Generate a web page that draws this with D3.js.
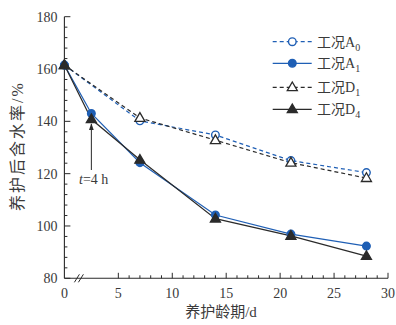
<!DOCTYPE html>
<html>
<head>
<meta charset="utf-8">
<script src="https://cdn.jsdelivr.net/npm/d3@7/dist/d3.min.js"></script>
<style>
  html, body { margin: 0; padding: 0; background: #fff; }
  svg text { font-family: "Liberation Serif", "Noto Sans CJK SC", serif; fill: #3a3a3a; }
</style>
</head>
<body>
<svg id="chart" width="396" height="325"></svg>
<script>
// Curing age (d); the 4 h reading sits just after the axis break
const agesShort = [0, 7, 14, 21, 28];
const agesLong = [0, 2.5, 7, 14, 21, 28];

// Moisture content after curing (%)
const seriesA0 = [161.5, 140.2, 134.8, 125.0, 120.4];
const seriesA1 = [161.5, 143.0, 124.2, 104.2, 96.9, 92.3];
const seriesD1 = [161.5, 141.3, 132.8, 124.2, 118.3];
const seriesD4 = [161.5, 140.8, 125.3, 102.8, 96.2, 88.5];

const xTicks = [0, 5, 10, 15, 20, 25, 30];
const yTicks = [80, 100, 120, 140, 160, 180];
const legendNames = ["A", "A", "D", "D"];
const legendSubs = ["0", "1", "1", "4"];

const blue = "#1f5fb5";
const dark = "#2a2a2a";

const svg = d3.select("#chart");
const x = d3.scaleLinear().domain([0, 30]).range([64.4, 388]);
const y = d3.scaleLinear().domain([80, 180]).range([278.3, 16.7]);

// Axes
const gx = svg.append("g").attr("transform", `translate(0,${y(80)})`);
gx.append("line").attr("x1", x(0)).attr("x2", x(30)).attr("stroke", dark).attr("stroke-width", 1.1);
const xMinor = d3.range(5, 30).filter(v => v % 5 !== 0);
gx.selectAll(".xmin").data(xMinor).join("line")
  .attr("x1", d => x(d)).attr("x2", d => x(d)).attr("y1", 0).attr("y2", -3)
  .attr("stroke", dark).attr("stroke-width", 1);
gx.selectAll(".xmaj").data(xTicks.filter(v => v > 0)).join("line")
  .attr("x1", d => x(d)).attr("x2", d => x(d)).attr("y1", 0).attr("y2", -5.5)
  .attr("stroke", dark).attr("stroke-width", 1);
gx.selectAll(".xlab").data(xTicks).join("text")
  .attr("x", d => x(d)).attr("y", 20).attr("text-anchor", "middle")
  .attr("font-size", 14).text(d => d);
// axis break marks
[0, 4].forEach(off => {
  gx.append("line")
    .attr("x1", x(0) + 10 + off).attr("y1", 4)
    .attr("x2", x(0) + 15 + off).attr("y2", -4)
    .attr("stroke", dark).attr("stroke-width", 1);
});

const gy = svg.append("g").attr("transform", `translate(${x(0)},0)`);
gy.append("line").attr("y1", y(80)).attr("y2", y(180)).attr("stroke", dark).attr("stroke-width", 1.1);
const yMinor = d3.range(80, 181, 4).filter(v => v % 20 !== 0);
gy.selectAll(".ymin").data(yMinor).join("line")
  .attr("x1", 0).attr("x2", 3).attr("y1", d => y(d)).attr("y2", d => y(d))
  .attr("stroke", dark).attr("stroke-width", 1);
gy.selectAll(".ymaj").data(yTicks).join("line")
  .attr("x1", 0).attr("x2", 6).attr("y1", d => y(d)).attr("y2", d => y(d))
  .attr("stroke", dark).attr("stroke-width", 1);
gy.selectAll(".ylab").data(yTicks).join("text")
  .attr("x", -7).attr("y", d => y(d) + 5).attr("text-anchor", "end")
  .attr("font-size", 14).text(d => d);

// Axis titles
svg.append("text").attr("x", 221).attr("y", 317).attr("text-anchor", "middle")
  .attr("font-size", 15).text("养护龄期/d");
svg.append("text").attr("transform", `translate(23,146) rotate(-90)`)
  .attr("text-anchor", "middle").attr("font-size", 16).attr("letter-spacing", 2)
  .text("养护后含水率/%");

// Series
const series = [
  { ages: agesShort, vals: seriesA0, color: blue, dash: "4,3", marker: "circle", fill: "#fff" },
  { ages: agesLong, vals: seriesA1, color: blue, dash: null, marker: "circle", fill: blue },
  { ages: agesShort, vals: seriesD1, color: dark, dash: "4,3", marker: "triangle", fill: "#fff" },
  { ages: agesLong, vals: seriesD4, color: dark, dash: null, marker: "triangle", fill: dark }
];

const line = d3.line().x(d => x(d[0])).y(d => y(d[1]));
series.forEach(s => {
  const pts = s.ages.map((a, i) => [a, s.vals[i]]);
  svg.append("path").datum(pts).attr("d", line)
    .attr("fill", "none").attr("stroke", s.color).attr("stroke-width", 1.2)
    .attr("stroke-dasharray", s.dash);
});

const triSym = d3.symbol().type(d3.symbolTriangle).size(44);
function drawMarker(g, s, cx, cy) {
  if (s.marker === "circle") {
    g.append("circle").attr("cx", cx).attr("cy", cy).attr("r", 3.8)
      .attr("fill", s.fill).attr("stroke", s.color).attr("stroke-width", 1.4);
  } else {
    g.append("path").attr("d", triSym).attr("transform", `translate(${cx},${cy + 0.5})`)
      .attr("fill", s.fill).attr("stroke", s.color).attr("stroke-width", 1.3);
  }
}
series.forEach(s => {
  const g = svg.append("g");
  s.ages.forEach((a, i) => drawMarker(g, s, x(a), y(s.vals[i])));
});

// Annotation for the 4 h reading
svg.append("defs").append("marker").attr("id", "arrow")
  .attr("viewBox", "0 0 10 10").attr("refX", 9).attr("refY", 5)
  .attr("markerWidth", 7).attr("markerHeight", 7).attr("orient", "auto")
  .append("path").attr("d", "M0,1.5 L10,5 L0,8.5 Z").attr("fill", dark);
svg.append("line").attr("x1", x(2.5)).attr("x2", x(2.5))
  .attr("y1", 170).attr("y2", 124)
  .attr("stroke", dark).attr("stroke-width", 1).attr("marker-end", "url(#arrow)");
const ann = svg.append("text").attr("x", 79).attr("y", 184).attr("font-size", 14);
ann.append("tspan").attr("font-style", "italic").text("t");
ann.append("tspan").text("=4 h");

// Legend
const legY = [41.7, 63.3, 87.3, 109.3];
series.forEach((s, i) => {
  const g = svg.append("g");
  g.append("line").attr("x1", 272.7).attr("x2", 311.7).attr("y1", legY[i]).attr("y2", legY[i])
    .attr("stroke", s.color).attr("stroke-width", 1.2).attr("stroke-dasharray", s.dash);
  drawMarker(g, s, 292.3, legY[i]);
  const t = g.append("text").attr("x", 317).attr("y", legY[i] + 5).attr("font-size", 14);
  t.append("tspan").text("工况" + legendNames[i]);
  t.append("tspan").attr("dy", 4).attr("font-size", 10).text(legendSubs[i]);
});
</script>
</body>
</html>
